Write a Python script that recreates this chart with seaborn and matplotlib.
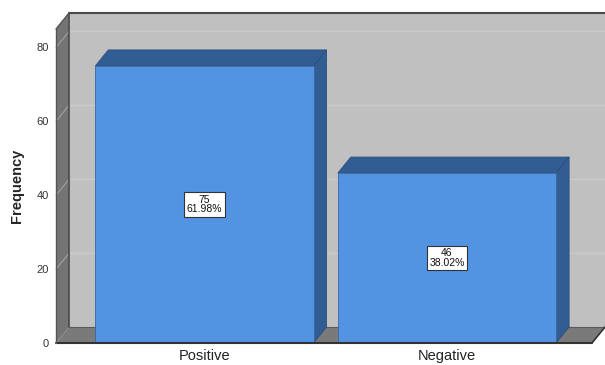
import matplotlib
matplotlib.use("Agg")
import matplotlib.pyplot as plt
import matplotlib.transforms as mtransforms
from matplotlib.patches import Polygon
import seaborn as sns
import pandas as pd

categories = ["Positive", "Negative"]
counts = [75, 46]
percents = ["61.98%", "38.02%"]
yticks = [0, 20, 40, 60, 80]

sns.set_style("white")
plt.rcParams["font.family"] = ["Liberation Sans", "DejaVu Sans"]

W, H, DPI = 605, 365, 100
fig = plt.figure(figsize=(W / DPI, H / DPI), dpi=DPI)
ax = fig.add_axes([56 / W, 22 / H, 536 / W, 314 / H])

df = pd.DataFrame({"cat": categories, "n": counts})
sns.barplot(data=df, x="cat", y="n", color="#5294e2", width=0.9, saturation=1,
            edgecolor="#3a66a0", linewidth=0.6, ax=ax, zorder=5)
ax.set_xlim(-0.612, 1.598)
ax.set_ylim(0, 85)

DX, DY = 13, 16
ident = mtransforms.IdentityTransform()
td = ax.transData


def P(x, y, d=0.0):
    px, py = td.transform((x, y))
    return (px + d * DX, py + d * DY)


def poly(pts, fc, ec="none", lw=0, z=0):
    p = Polygon(pts, closed=True, facecolor=fc, edgecolor=ec, linewidth=lw,
                zorder=z, clip_on=False)
    ax.add_patch(p)
    p.set_transform(ident)
    return p


x0, x1 = ax.get_xlim()
y0, y1 = ax.get_ylim()

# back wall
poly([P(x0, y0, 1), P(x1, y0, 1), P(x1, y1, 1), P(x0, y1, 1)], "#c0c0c0", z=0.1)
# left wall
poly([P(x0, y0, 0), P(x0, y0, 1), P(x0, y1, 1), P(x0, y1, 0)], "#747474", z=0.2)
# floor
poly([P(x0, y0, 0), P(x1, y0, 0), P(x1, y0, 1), P(x0, y0, 1)], "#7a7a7a", z=0.2)


def seg(p, q, col, lw, z=0.4):
    ax.add_line(plt.Line2D([p[0], q[0]], [p[1], q[1]], color=col, lw=lw,
                           transform=ident, zorder=z, clip_on=False))


# gridlines on back wall and left wall
for v in yticks[1:]:
    a, b = P(x0, v, 1), P(x1, v, 1)
    seg(a, b, "#cbcbcb", 1.0, z=0.3)
    seg(P(x0, v, 0), a, "#a0a0a0", 0.8, z=0.3)

# edges
seg(P(x0, y0, 1), P(x0, y1, 1), "#4a4a4a", 1.2)
seg(P(x0, y1, 1), P(x1, y1, 1), "#4a4a4a", 1.5)
seg(P(x0, y0, 1), P(x1, y0, 1), "#5a5a5a", 0.8)
seg(P(x0, y0, 0), P(x1, y0, 0), "#333333", 1.5, z=6)
seg(P(x0, y0, 0), P(x0, y1, 0), "#555555", 1.0, z=6)
seg(P(x0, y1, 0), P(x0, y1, 1), "#555555", 1.0)
seg(P(x1, y0, 0), P(x1, y0, 1), "#333333", 1.2)

# bar 3D faces
for patch, n, pct in zip(ax.patches[:len(counts)], counts, percents):
    bx = patch.get_x()
    bw = patch.get_width()
    bh = patch.get_height()
    top = [P(bx, bh, 0), P(bx + bw, bh, 0), P(bx + bw, bh, 1), P(bx, bh, 1)]
    side = [P(bx + bw, 0, 0), P(bx + bw, 0, 1), P(bx + bw, bh, 1), P(bx + bw, bh, 0)]
    poly(top, "#325d93", ec="#2a4f7e", lw=0.6, z=4)
    poly(side, "#325d93", ec="#2a4f7e", lw=0.6, z=4)
    ax.text(bx + bw / 2, bh / 2, f"{n}\n{pct}", ha="center", va="center",
            fontsize=7.5, color="#111111", linespacing=0.95, zorder=7,
            bbox=dict(boxstyle="square,pad=0.25", fc="white", ec="#333333", lw=0.8))

for sp in ax.spines.values():
    sp.set_visible(False)
ax.set_yticks(yticks)
ax.set_yticklabels([str(t) for t in yticks], fontsize=8, color="#333333")
ax.tick_params(axis="y", length=0, pad=5)
ax.tick_params(axis="x", length=0, pad=4, labelsize=10.5, labelcolor="#222222")
ax.set_xlabel("")
ax.set_ylabel("Frequency", fontsize=10.5, fontweight="bold", labelpad=9)
ax.set_facecolor("none")

fig.savefig("out.png", dpi=DPI, facecolor="white")
